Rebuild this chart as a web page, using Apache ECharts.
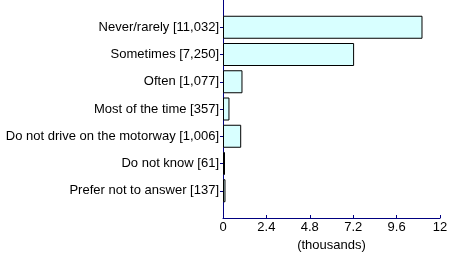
<!DOCTYPE html>
<html><head><meta charset="utf-8">
<script src="https://cdn.jsdelivr.net/npm/echarts@6/dist/echarts.min.js"></script>
<style>html,body{margin:0;padding:0;background:#fff}#c{width:450px;height:254px}</style>
</head><body><div id="c"></div>
<script>
var categories = ["Never/rarely", "Sometimes", "Often", "Most of the time", "Do not drive on the motorway", "Do not know", "Prefer not to answer"];
var counts = [11032, 7250, 1077, 357, 1006, 61, 137];
var xTicks = [0, 2.4, 4.8, 7.2, 9.6, 12];

var labels = [''].concat(categories.map(function (c, i) { return c + ' [' + counts[i].toLocaleString('en-US') + ']'; })).concat(['']);
var values = ['-'].concat(counts.map(function (v) { return v / 1000; })).concat(['-']);

var chart = echarts.init(document.getElementById('c'), null, {renderer: 'canvas'});
var axisColor = '#000080';
var font = 'Liberation Sans, Arial';
chart.setOption({
  animation: false,
  grid: {left: 223, right: 10, top: 0, bottom: 36, outerBoundsMode: 'none', containLabel: false},
  xAxis: {
    type: 'value', min: 0, max: 12, interval: 2.4,
    axisLine: {show: true, lineStyle: {color: axisColor, width: 1}},
    axisTick: {show: true, inside: true, length: 3, lineStyle: {color: axisColor}},
    splitLine: {show: false},
    axisLabel: {color: '#000', fontFamily: font, fontSize: 13, margin: 3,
      formatter: function (v) { return xTicks.indexOf(+v.toFixed(1)) >= 0 ? String(+v.toFixed(1)) : ''; }},
    name: '(thousands)', nameLocation: 'middle', nameGap: 20,
    nameTextStyle: {color: '#000', fontFamily: font, fontSize: 13}
  },
  yAxis: {
    type: 'category', inverse: true, boundaryGap: false, data: labels,
    axisLine: {show: true, onZero: false, lineStyle: {color: axisColor, width: 1}},
    axisTick: {show: true, length: 3, inside: false, lineStyle: {color: axisColor},
      interval: function (i) { return i > 0 && i < labels.length - 1; }},
    axisLabel: {color: '#000', fontFamily: font, fontSize: 13, margin: 4, interval: 0},
    splitLine: {show: false}
  },
  series: [{
    type: 'bar', data: values, barWidth: 23, barMinHeight: 2,
    itemStyle: {color: '#d8ffff', borderColor: '#000', borderWidth: 1}
  }]
});
</script></body></html>
